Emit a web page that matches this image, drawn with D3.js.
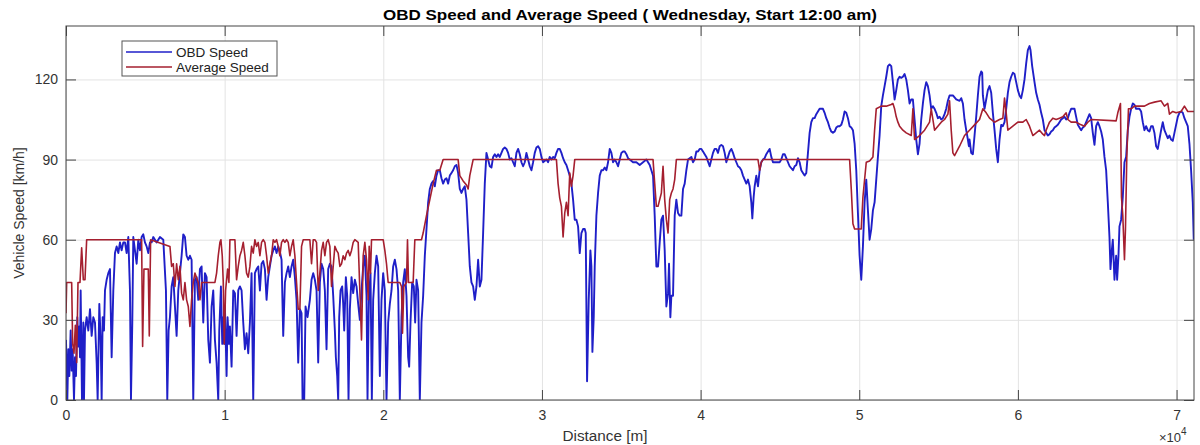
<!DOCTYPE html>
<html>
<head>
<meta charset="utf-8">
<script src="https://cdn.jsdelivr.net/npm/d3@7/dist/d3.min.js"></script>
<style>
body{margin:0;background:#fff;}
svg{display:block;font-family:"Liberation Sans",Arial,sans-serif;}
</style>
</head>
<body>
<svg id="chart" width="1200" height="445"></svg>
<script>
var titleText = "OBD Speed and Average Speed ( Wednesday, Start 12:00 am)";
var seriesNames = ["OBD Speed", "Average Speed"];
var xTicks = [0, 10000, 20000, 30000, 40000, 50000, 60000, 70000];
var xTickLabels = ["0", "1", "2", "3", "4", "5", "6", "7"];
var yTicks = [0, 30, 60, 90, 120];

// [distance m, speed km/h]
var obdSpeed = [
 [0,22.5],[84,0],[147,19],[210,9],[294,26],[357,11],[420,19],[504,0],[567,16],[630,9],[714,31],[777,20],[840,27.5],[882,16],[924,41],[1008,0],[1092,29],[1134,0],[1197,26],[1302,31],[1407,26],[1512,34],[1617,24],[1722,31],[1827,29],[1932,14],[1995,0],[2100,36],[2184,22.5],[2247,0],[2310,31],[2394,26],[2457,41],[2562,45],[2667,47.5],[2772,49],[2877,16],[2982,41],[3087,55],[3192,57.5],[3297,55],[3402,59],[3507,56],[3612,59],[3717,59],[3822,55],[3927,61],[4032,41],[4095,0],[4179,29],[4242,61],[4347,56],[4452,51],[4557,60],[4662,56],[4767,61],[4872,62],[4977,59],[5082,57.5],[5187,55],[5292,59],[5397,59],[5502,61],[5712,59],[5922,61],[6132,60],[6300,41],[6384,0],[6468,26],[6552,31],[6657,42.5],[6762,46],[6867,35],[6972,24],[7077,41],[7182,47.5],[7287,54],[7392,62],
 [7497,61],[7602,54],[7707,52.5],[7812,54],[7917,52.5],[8022,0],[8127,45],[8232,46],[8337,37.5],[8442,49],[8547,50],[8652,29],[8757,47.5],[8862,46],[8967,22.5],[9072,14],[9177,35],[9282,41],[9387,22.5],[9492,14],[9597,0],[9660,26],[9765,42.5],[9849,21],[9912,31],[9975,21],[10017,35],[10122,9],[10185,31],[10269,21],[10332,27.5],[10437,12.5],[10542,41],[10647,40],[10752,24],[10857,41],[10962,42.5],[11067,41],[11172,29],[11277,19],[11382,25],[11487,17.5],[11592,29],[11697,47.5],[11802,0],[11907,47.5],[12012,49],[12117,50],[12222,41],[12327,51],[12432,52],[12537,49],[12642,37.5],[12747,46],[12852,50],[12957,54],[13062,56],[13167,57.5],[13272,55],[13377,57.5],[13482,55.5],[13587,52.5],[13692,24],[13797,44],[13902,47.5],[14007,50],[14112,46],[14217,50],[14322,52.5],[14427,46],[14532,37.5],[14637,14],[14742,34],[14847,32.5],[14910,0],[15015,0],[15099,35],[15225,31],[15372,37.5],
 [15477,45],[15582,47.5],[15687,45],[15792,41],[15897,14],[16002,44],[16107,51],[16212,49],[16317,41],[16422,19],[16527,49],[16632,51],[16737,50],[16842,39],[16947,26],[17010,16],[17094,9],[17157,0],[17220,31],[17304,41],[17409,42.5],[17472,36],[17535,26],[17640,46],[17724,39],[17808,0],[17892,34],[17997,46],[18102,40],[18207,45],[18312,42.5],[18417,36],[18522,30],[18627,41],[18732,50],[18837,54],[18942,39],[19005,0],[19089,37.5],[19194,47.5],[19278,0],[19362,37.5],[19467,47.5],[19572,54],[19677,50],[19782,9],[19887,37.5],[19992,47.5],[20097,41],[20202,0],[20307,29],[20412,36],[20517,41],[20622,50],[20727,52.5],[20832,49],[20937,41],[21042,0],[21147,31],[21252,44],[21357,49],[21462,39],[21567,16],[21630,12.5],[21714,29],[21819,44],[21924,42.5],[22008,29],[22092,45],[22197,41],[22302,0],[22407,29],[22512,39],[22617,54],[22722,64],[22827,74],
 [22932,79],[23037,81],[23142,82],[23247,80],[23352,84],[23457,86],[23562,86],[23667,83],[23772,81],[23877,82.5],[23982,83],[24087,81],[24192,84],[24297,85],[24402,86],[24507,87.5],[24612,88],[24717,85],[24822,79],[24927,77.5],[25032,79],[25137,80],[25242,75],[25347,62.5],[25452,50],[25557,44],[25662,42.5],[25767,37.5],[25872,42.5],[25977,52.5],[26082,42.5],[26187,45],[26292,62.5],[26397,81],[26502,92.5],[26607,90],[26712,87.5],[26817,87],[26922,91],[27027,92],[27132,91],[27237,92],[27342,91],[27447,92.5],[27552,94],[27657,94.5],[27762,94],[27867,92.5],[27972,90],[28077,90.5],[28182,89],[28287,87.5],[28392,92.5],[28497,94],[28602,92],[28707,89],[28812,87.5],[28917,89],[29022,92.5],[29127,90],[29232,87.5],[29337,86],[29442,89],[29547,92.5],[29652,94.5],[29757,95],[29862,94],[29967,91],[30072,89],[30282,90],[30387,89],[30492,91],[30597,90],[30702,91],[30807,90.5],[30912,92.5],[31017,94],[31122,94],[31227,92.5],[31332,90.5],[31437,89],[31542,88],[31647,86],[31752,84],[31857,81],[31962,75],[32067,67.5],[32172,67.5],[32277,65],[32382,55],[32487,62.5],[32592,64],[32697,64],[32760,62.5],[32844,7],[32949,37.5],[33054,56],[33117,50],[33180,18],[33264,31],[33327,50],[33432,69],[33537,77.5],[33642,84],[33747,86],[33852,86],[33957,87],[34062,86],[34167,89],[34272,94],[34377,92.5],[34482,89],[34587,90],[34692,89],[34797,87.5],[34902,90],[35007,92.5],[35112,93],[35217,93],[35322,92],[35427,90.5],[35532,90],[35742,89],[35952,89],[36162,88],[36372,89],[36582,90],[36687,89],[36792,88],[36897,86],[37002,84],[37107,69],[37212,50],[37317,50],[37422,59],[37527,67.5],[37632,69],[37737,56],[37842,35],[37947,40],[38010,51],[38094,31],[38157,39],[38262,39],[38367,69],[38472,75],[38577,70],[38682,69],[38787,69],[38892,79],[38997,81],[39102,86],[39207,90],[39312,90.5],[39417,91],[39522,89],[39627,90],[39732,93],[39837,93],[39942,94],
 [40047,94],[40152,93],[40362,91],[40572,87.5],[40677,90],[40782,92.5],[40887,94],[40992,94],[41097,92.5],[41202,95],[41307,95.5],[41412,95],[41517,92.5],[41622,89],[41727,91],[41832,93],[41937,94],[42042,92.5],[42147,90.5],[42252,89],[42357,87.5],[42462,87],[42567,86],[42672,84],[42777,82.5],[42882,81],[42987,82.5],[43092,80],[43197,74],[43260,68],[43344,76],[43407,80],[43512,84],[43617,80],[43722,86],[43827,89],[43932,90],[44037,90.5],[44142,92],[44247,93],[44352,94],[44457,91],[44562,89],[44772,89],[44982,89],[45087,90],[45192,92],[45297,92],[45402,90.5],[45507,89],[45612,87.5],[45822,86],[45927,87.5],[46032,88],[46137,90.5],[46242,89],[46347,86],[46452,85],[46557,84],[46662,85],[46767,92.5],[46872,100],[46977,104],[47082,105.5],[47187,105.5],[47292,107],[47397,108],[47502,109],[47607,109],[47712,109],[47817,107.5],[47922,105.5],[48027,104],[48132,102],[48237,100.5],[48342,100],[48447,100.5],[48552,102],[48657,102.5],[48762,102.5],[48867,103],[48972,105],[49077,108],[49182,107.5],[49287,105.5],[49392,102.5],[49497,102],[49602,101],[49707,96],[49812,86],[49917,70],[50022,54],[50127,45],[50232,57.5],[50337,74],[50442,82.5],[50547,71],[50652,60],[50757,64],[50862,71],[50967,74],[51072,82.5],[51177,91],[51282,99],[51387,110],[51492,114],[51597,117.5],[51702,121],[51807,125],[51912,125.6],[52017,125],[52122,119],[52227,112.5],[52332,116],[52437,120],[52542,121],[52647,120.6],[52752,121],[52857,122],[52962,120],[53067,116],[53172,111],[53277,112.5],[53382,112.5],[53487,105],[53592,97.5],[53697,92],[53802,96],[53907,105],[54012,111],[54117,116],[54222,119],[54327,117.5],[54432,114],[54537,109],[54642,110],[54747,109],[54852,107.5],[54957,105.5],[55062,106],[55167,105],[55272,105.5],[55377,107],[55482,109],[55587,112],[55692,114],
 [55797,114],[55902,114],[56112,112.5],[56322,112],[56427,113],[56532,111],[56637,105],[56742,101],[56847,97.5],[56910,95],[56952,97.5],[57057,92.5],[57162,92],[57267,99],[57372,106],[57477,114],[57582,121],[57687,123],[57750,122.5],[57792,114],[57897,109],[58002,112.5],[58107,116],[58212,117.5],[58317,115],[58422,107.5],[58527,101],[58632,94],[58737,89],[58842,97.5],[58947,103],[59052,102.5],[59157,104],[59262,109],[59367,115],[59472,119],[59577,121],[59682,122.5],[59787,122],[59892,119],[59997,116],[60102,114],[60207,113],[60312,116],[60417,120],[60522,126],[60627,131],[60732,132.5],[60795,131],[60900,125],[61047,119],[61152,115],[61257,112.5],[61362,110.5],[61467,107.5],[61572,105],[61677,101],[61782,100],[61887,99],[61992,99.5],[62097,100.5],[62202,101],[62307,102],[62412,102.5],[62517,103],[62622,104],[62727,105],[62832,105.5],[62937,106],[63042,105],[63147,105.5],[63252,107.5],[63357,109],[63462,109],[63567,109],[63672,106],[63777,103],[63882,102],[63987,101],[64092,102],[64197,102.5],[64302,104],[64407,105.5],[64512,107],[64617,105.5],[64722,100],[64827,95.5],[64932,102.5],[65037,104],[65142,102.5],[65247,100.5],[65352,97.5],[65457,91],[65562,86],[65667,74],[65772,61],[65835,49],[65919,56],[65982,60],[66087,45],[66192,54],[66255,45],[66339,54],[66402,65],[66507,67.5],[66612,76],[66717,89],[66822,91],[66927,101],[67032,106],[67137,109],[67242,111],[67347,110.5],[67452,109],[67557,109],[67662,109],[67767,108],[67872,104],[67977,101],[68082,102.5],[68187,101],[68292,100.5],[68397,102.5],[68502,102.5],[68607,100],[68712,95],[68817,94],[68922,97.5],[69027,101],[69132,104],[69237,101],[69342,99.5],[69447,98],[69552,99],[69657,97.5],[69762,97],[69867,100],[69972,103],[70077,106],[70182,107.5],[70287,108],[70392,107.5],[70497,105.5],[70602,104],[70707,102.5],[70812,96],[70917,86],[71022,74],[71085,60]
];

var avgSpeed = [
 [0,32.5],[42,44],[357,44],[420,21],[504,17.5],[588,28],[672,14],[756,44],[882,44],[987,57],[1092,45],[1197,45],[1302,60],[4767,60],[4830,20],[4914,49],[5187,49],[5250,24],[5334,60],[6552,57.5],[6657,50],[6762,51],[6867,42.5],[6972,51],[7077,45],[7182,50],[7287,40],[7392,37.5],
 [7497,44],[7602,37.5],[7707,35],[7812,27.5],[7917,37.5],[8022,44],[8127,47.5],[8337,44],[8442,37.5],[8547,44],[9387,44],[9492,47.5],[9597,54],[9702,59],[9765,60],[9849,54],[9912,44],[9975,21],[10059,41],[10185,49],[10269,44],[10332,60],[10647,60],[10752,45],[10857,50],[10962,54],[11067,56],[11172,59],[11277,54],[11382,47.5],[11487,46],[11592,50],[11697,57.5],[11802,55],[11907,60],[12012,57.5],[12117,59],[12222,54],[12327,59],[12432,60],[12537,59],[12642,54],[12747,47.5],[12852,51],[12957,54],[13062,60],[13167,59],[13272,60],[13377,57.5],[13482,54],[13587,59],[13692,60],[13797,59],[13902,60],[14007,59],[14112,54],[14217,57.5],[14322,60],[14427,54],[14532,44],[14637,34],[14742,34],[14847,57.5],[14952,60],[15372,60],
 [15477,51],[15582,60],[15687,60],[15792,59],[15897,41],[16002,47.5],[16107,56],[16212,59],[16317,54],[16422,59],[16527,60],[16632,57.5],[16737,42.5],[16842,50],[16947,57.5],[17052,56],[17157,55],[17262,50],[17367,51],[17472,54],[17577,52.5],[17682,55],[17787,56],[17892,54],[17997,56],[18102,59],[18207,60],[18417,59],[18522,41],[18627,22.5],[18732,54],[18837,59],[18942,52.5],[19047,37.5],[19110,57.5],[19194,47.5],[19257,60],[19992,60],[20097,56],[20202,51],[20307,44],[21042,44],[21147,42.5],[21210,25],[21294,42.5],[21462,44],[21525,60],[21588,44],[21882,44],[21987,60],[22407,60],
 [22512,62.5],[22722,69],[22932,75],[23142,81],[23352,86],[23562,86],[23772,90],[24717,90],[24822,84],[25032,82],[25242,80.5],[25347,79],[25452,84],[25662,90],[30912,90],[31017,81],[31122,75.6],[31227,72.5],[31332,61],[31437,70],[31542,74],[31647,69],[31752,85],[31857,80],[31962,84],[32067,90],[37002,90],[37107,81],[37212,72.5],[37317,72.5],[37422,75],[37527,77.5],[37632,87.5],[37737,75],[37842,67.5],[37947,62.5],[38052,75],[38157,77.5],[38262,79],[38367,82.5],[38472,90],
 [43617,90],[43722,86],[43827,89],[43932,90],[49392,90],[49497,79],[49602,66],[49707,64],[50127,64],[50232,76],[50442,89],[50652,89.5],[50862,91],[50967,101],[51072,109],[51387,110],[51702,110],[52017,110.6],[52122,111],[52227,109],[52332,106],[52437,104],[52542,102.5],[52752,101],[52962,100],[53277,99],[53382,109],[53487,97.5],[53802,99],[54117,101],[54432,104],[54537,109],[54642,105],[54747,101],[54957,102.5],[55167,104],[55377,105],[55587,107],[55692,112],
 [55797,101],[55902,92.5],[56007,91.5],[56322,95],[56637,99],[56952,101],[57267,103],[57582,105],[57792,109],[58002,107.5],[58212,105.5],[58527,104],[58842,105],[59052,105.5],[59157,113],[59262,107.5],[59367,101],[59682,102.5],[59997,104],[60312,104],[60522,105],[60732,102.5],[60942,99],[61152,100],[61362,101],[61572,99.5],[61677,99],[61782,101],[61992,104],[62202,105.5],[62412,105],[62622,105.5],[62832,106],[63042,107.5],[63147,105],[63357,104],[63672,104],[63987,103],[64197,102.5],[64407,104],[64617,105],[66192,104.5],[66297,107.5],[66465,111],[66528,76],[66612,69],[66717,52.5],[66780,64],[66864,91],[66969,109],[67137,109],[67347,110],[67662,110],[67977,110],[68292,111],[68607,111.5],[69027,112],[69237,110],[69447,111],[69552,107],[69762,108],[69972,107.5],[70287,108],[70497,110],[70707,108],[71127,108]
];

var colors = ["#1f1fc8", "#a51f2f"];

(function() {
var svg = d3.select("#chart");
var plotLeft = 66, plotRight = 1194, plotTop = 26, plotBottom = 400;

var x = d3.scaleLinear().domain([0, 71100]).range([plotLeft, plotRight]);
var y = d3.scaleLinear().domain([0, 140]).range([plotBottom, plotTop]);

// grid
var grid = svg.append("g").attr("class", "grid");
grid.append("g").attr("transform", "translate(0," + plotBottom + ")")
  .call(d3.axisBottom(x).tickValues(xTicks).tickSize(-(plotBottom - plotTop)).tickFormat(""));
grid.append("g").attr("transform", "translate(" + plotLeft + ",0)")
  .call(d3.axisLeft(y).tickValues(yTicks).tickSize(-(plotRight - plotLeft)).tickFormat(""));
grid.selectAll(".domain").remove();
grid.selectAll("line").attr("stroke", "#e3e3e3").attr("stroke-width", 1);

// data lines
svg.append("clipPath").attr("id", "plotClip").append("rect")
  .attr("x", plotLeft).attr("y", plotTop).attr("width", plotRight - plotLeft).attr("height", plotBottom - plotTop);

var line = d3.line().x(function(d){ return x(d[0]); }).y(function(d){ return y(d[1]); });
var plot = svg.append("g").attr("clip-path", "url(#plotClip)");
plot.append("path").datum(obdSpeed).attr("d", line)
  .attr("fill", "none").attr("stroke", colors[0]).attr("stroke-width", 1.9).attr("stroke-linejoin", "round");
plot.append("path").datum(avgSpeed).attr("d", line)
  .attr("fill", "none").attr("stroke", colors[1]).attr("stroke-width", 1.6).attr("stroke-linejoin", "round");

// axes, ticks inward on all four sides
var axisColor = "#444";
function styleAxis(g) {
  g.selectAll(".domain").remove();
  g.selectAll("line").attr("stroke", axisColor);
  g.selectAll("text").attr("fill", "#333").style("font-size", "14px")
    .style("font-family", "'Liberation Sans', Arial, sans-serif");
}
svg.append("g").attr("transform", "translate(0," + plotBottom + ")")
  .call(d3.axisBottom(x).tickValues(xTicks).tickSizeInner(-10).tickSizeOuter(0).tickPadding(10)
    .tickFormat(function(d, i){ return xTickLabels[i]; }))
  .call(styleAxis);
svg.append("g").attr("transform", "translate(0," + plotTop + ")")
  .call(d3.axisTop(x).tickValues(xTicks).tickSizeInner(-10).tickSizeOuter(0).tickFormat(""))
  .call(styleAxis);
svg.append("g").attr("transform", "translate(" + plotLeft + ",0)")
  .call(d3.axisLeft(y).tickValues(yTicks).tickSizeInner(-10).tickSizeOuter(0).tickPadding(8))
  .call(styleAxis);
svg.append("g").attr("transform", "translate(" + plotRight + ",0)")
  .call(d3.axisRight(y).tickValues(yTicks).tickSizeInner(-10).tickSizeOuter(0).tickFormat(""))
  .call(styleAxis);

svg.append("rect").attr("x", plotLeft).attr("y", plotTop)
  .attr("width", plotRight - plotLeft).attr("height", plotBottom - plotTop)
  .attr("fill", "none").attr("stroke", axisColor).attr("stroke-width", 1);

// labels
svg.append("text").attr("x", (plotLeft + plotRight) / 2).attr("y", 20)
  .attr("text-anchor", "middle").style("font-weight", "bold").style("font-size", "15px")
  .attr("textLength", 494).attr("lengthAdjust", "spacingAndGlyphs")
  .attr("fill", "#000").text(titleText);

svg.append("text").attr("transform", "translate(24,213) rotate(-90)")
  .attr("text-anchor", "middle").style("font-size", "14px").attr("fill", "#333")
  .text("Vehicle Speed [km/h]");

svg.append("text").attr("x", 605).attr("y", 441)
  .attr("text-anchor", "middle").style("font-size", "14px").attr("fill", "#333")
  .attr("textLength", 85).attr("lengthAdjust", "spacingAndGlyphs")
  .text("Distance [m]");

var expo = svg.append("text").attr("x", 1159).attr("y", 442)
  .style("font-size", "13px").attr("fill", "#333");
expo.append("tspan").text("\u00d7");
expo.append("tspan").text("10");
expo.append("tspan").attr("dy", -7).style("font-size", "10px").text("4");

// legend
var legend = svg.append("g");
legend.append("rect").attr("x", 122).attr("y", 41).attr("width", 155).attr("height", 35)
  .attr("fill", "#fff").attr("stroke", "#555");
seriesNames.forEach(function(name, i) {
  var ly = 52 + i * 15;
  legend.append("line").attr("x1", 126).attr("x2", 172).attr("y1", ly).attr("y2", ly)
    .attr("stroke", colors[i]).attr("stroke-width", 1.4);
  legend.append("text").attr("x", 176).attr("y", ly + 4.5)
    .style("font-size", "13.5px").attr("fill", "#222").text(name);
});
})();
</script>
</body>
</html>
